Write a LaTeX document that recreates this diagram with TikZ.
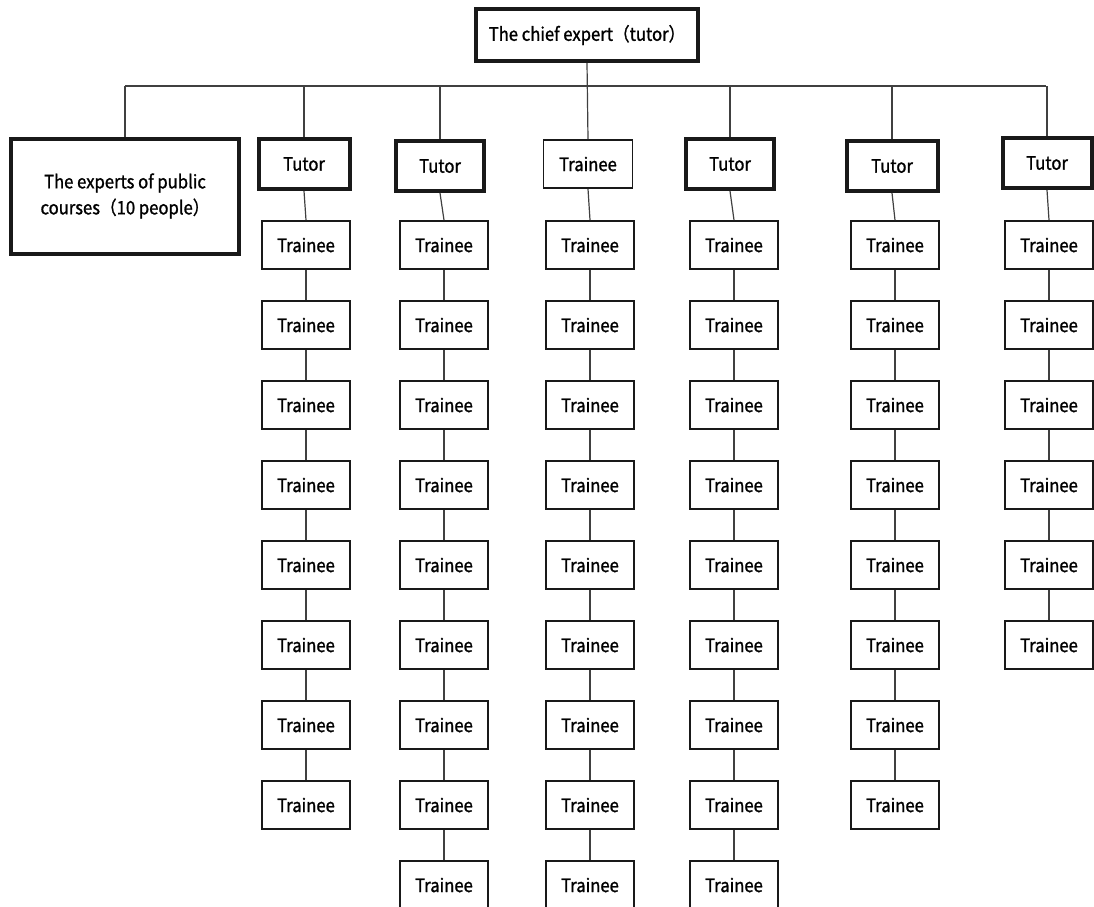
\documentclass[tikz,border=0pt]{standalone}
\usepackage{fontspec}
\setmainfont{Noto Sans CJK SC}[FakeStretch=0.9, FakeBold=1.2]
\begin{document}
\begin{tikzpicture}[x=1pt,y=-1pt,
  box/.style={draw=black!90, fill=white, inner sep=0pt, align=center,
    font=\fontsize{18.5}{26}\selectfont},
  thin/.style={box, line width=1.8pt, minimum width=88pt, minimum height=48pt},
  thick/.style={box, line width=4pt},
  link/.style={draw=black!75, line width=1.2pt}]
\useasboundingbox (0,0) rectangle (1094,906);

% head of the scheme and the group of public course experts
\node[thick, minimum width=222pt, minimum height=52pt] (chief) at (587,35)
  {The chief expert（tutor）};
\node[thick, minimum width=228pt, minimum height=115pt] (experts) at (125,196)
  {The experts of public\\courses（10 people）};

% first row: five tutors and one trainee under the chief expert
\node[thick, minimum width=91pt, minimum height=50pt] (top1) at (304,164) {Tutor};
\node[thick, minimum width=88pt, minimum height=50pt] (top2) at (440,166) {Tutor};
\node[thin,  minimum width=89pt, minimum height=48pt] (top3) at (588,164) {Trainee};
\node[thick, minimum width=88pt, minimum height=50pt] (top4) at (730,164) {Tutor};
\node[thick, minimum width=91pt, minimum height=50pt] (top5) at (892,166) {Tutor};
\node[thick, minimum width=89pt, minimum height=50pt] (top6) at (1047,163) {Tutor};

% trainees of each column
\foreach \c/\x/\n in {1/306/8, 2/444/9, 3/590/9, 4/734/9, 5/895/8, 6/1049/6}{
  \foreach \r in {1,...,\n}{
    \node[thin] (t\c-\r) at (\x,{245+80*(\r-1)}) {Trainee};
  }
}

% bus line from the chief expert
\coordinate (busL) at (125,86);
\coordinate (busR) at (1046,86);
\path[link] (busL) -- (busR);
\path[link] (chief.south) -- (top3.north);
\path[link] (busL) -- (experts.north);
\foreach \c in {1,2,4,5,6}{
  \path[link] (top\c.north |- busL) -- (top\c.north);
}

% chains down each column
\foreach \c/\n in {1/8, 2/9, 3/9, 4/9, 5/8, 6/6}{
  \path[link] (top\c.south) -- (t\c-1.north);
  \foreach \r [evaluate=\r as \s using int(\r+1)] in {1,...,\n}{
    \ifnum\r<\n
      \path[link] (t\c-\r.south) -- (t\c-\s.north);
    \fi
  }
}
\end{tikzpicture}
\end{document}
